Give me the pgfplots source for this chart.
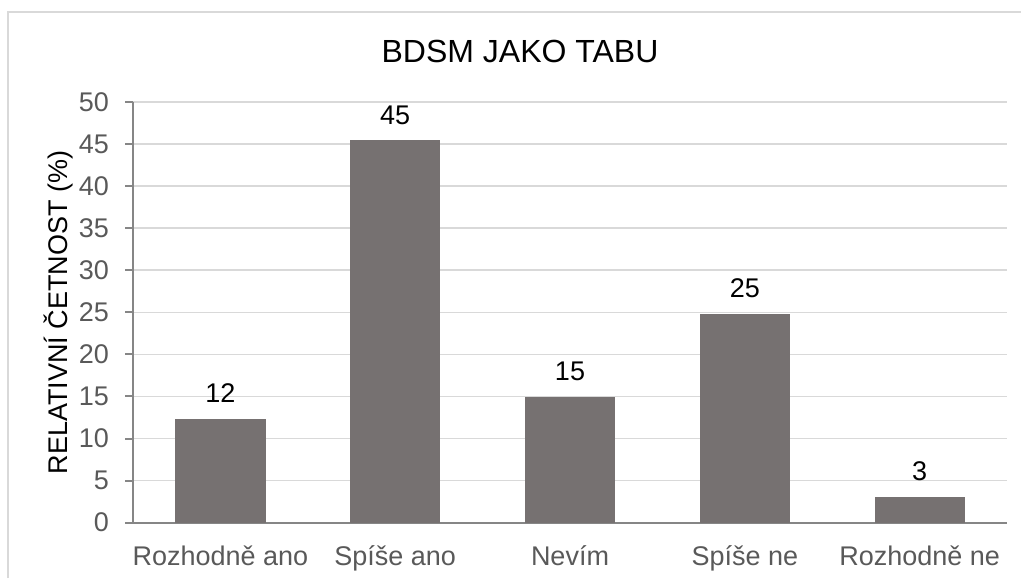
\documentclass[border=0pt]{standalone}
\usepackage{pgfplots}
\pgfplotsset{compat=1.18}
\usepackage{fontspec}
\setmainfont{Liberation Sans}
\definecolor{barc}{HTML}{767171}
\definecolor{gridc}{HTML}{D9D9D9}
\definecolor{axisc}{HTML}{868686}
\definecolor{tickc}{HTML}{595959}
\definecolor{framec}{HTML}{D9D9D9}
\begin{document}
\begin{tikzpicture}
\useasboundingbox (0,0) rectangle (510.5pt,289pt);
\draw[framec, line width=1pt] (4pt,0pt) -- (4pt,283pt) -- (510.5pt,283pt);
\begin{axis}[
  at={(66.5pt,27.65pt)}, anchor=south west,
  scale only axis, width=437pt, height=210.35pt,
  xmin=-0.5, xmax=4.5, ymin=0, ymax=50,
  ytick={0,5,...,50},
  xtick={0,1,2,3,4},
  xticklabels={Rozhodně ano, Spíše ano, Nevím, Spíše ne, Rozhodně ne},
  axis x line*=bottom, axis y line*=left,
  axis line style={-, axisc, line width=1pt},
  x axis line style={shorten <=-4pt},
  xtick style={draw=none},
  ytick style={draw=axisc, line width=1pt},
  major tick length=4pt, tick align=outside,
  ymajorgrids, grid style={gridc, line width=0.8pt},
  /pgf/number format/assume math mode=true,
  ticklabel style={font=\fontsize{13.5}{16}\selectfont, text=tickc},
  xticklabel style={anchor=base, yshift=-17.5pt},
  yticklabel style={xshift=-4.5pt},
  ylabel={RELATIVNÍ ČETNOST (\%)},
  ylabel style={font=\fontsize{13.5}{16}\selectfont, at={(axis description cs:-0.0858,0.5)}, anchor=center},
  ybar, bar width=0.51,
  nodes near coords,
  point meta=y,
  nodes near coords style={font=\fontsize{13.5}{16}\selectfont, text=black, anchor=south, inner sep=0pt, yshift=8pt,
    /pgf/number format/.cd, fixed, precision=0, assume math mode=true},
]
\addplot[fill=barc, draw=barc] coordinates {(0,12.3) (1,45.4) (2,14.9) (3,24.8) (4,3.0)};
\end{axis}
\node[font=\fontsize{16}{19}\selectfont, anchor=base] at (260pt,257.5pt) {BDSM JAKO TABU};
\end{tikzpicture}
\end{document}
